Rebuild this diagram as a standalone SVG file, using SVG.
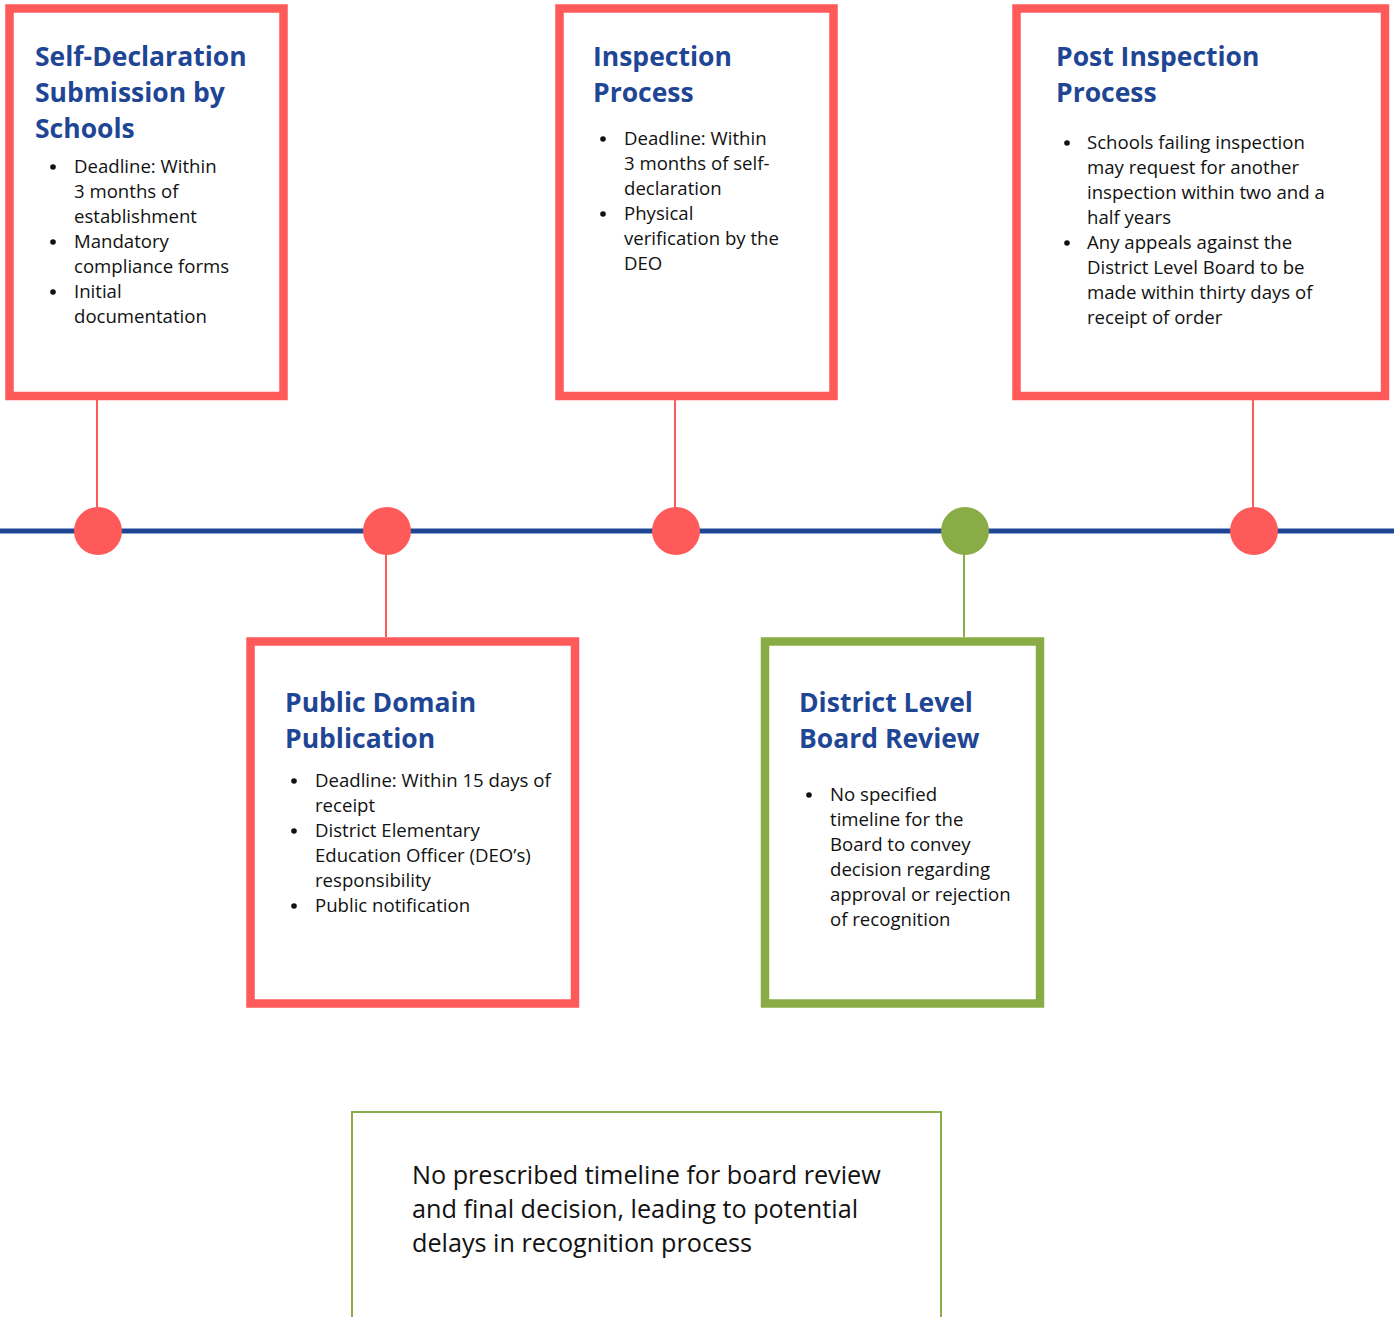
<svg xmlns="http://www.w3.org/2000/svg" width="1394" height="1317" viewBox="0 0 1394 1317">
<style>
.box{fill:#fff;stroke:#ff5a5a;stroke-width:8.5}
.gbox{fill:#fff;stroke:#8aac47;stroke-width:8.5}
.title{font-family:"Open Sans","Noto Sans",sans-serif;font-weight:700;font-size:26.5px;fill:#1f4695}
.body{font-family:"Open Sans","Noto Sans",sans-serif;font-size:18.6px;fill:#111}
.note{font-family:"Open Sans","Noto Sans",sans-serif;font-size:25.2px;fill:#111}
.bul{fill:#111}
.rc{fill:#ff5a5a}
.gc{fill:#8aac47}
.rl{stroke:#ff5a5a;stroke-width:2}
.gl{stroke:#8aac47;stroke-width:2}
</style>
<rect width="1394" height="1317" fill="#fff"/>
<g id="connectors">
<line x1="0" y1="531" x2="1394" y2="531" stroke="#1f4695" stroke-width="5"/>
<line class="rl" x1="97" y1="400" x2="97" y2="510"/>
<line class="rl" x1="675" y1="400" x2="675" y2="510"/>
<line class="rl" x1="1253" y1="400" x2="1253" y2="510"/>
<line class="rl" x1="386" y1="552" x2="386" y2="637"/>
<line class="gl" x1="964" y1="552" x2="964" y2="637"/>
</g>
<g id="dot1"><circle class="rc" cx="98" cy="531" r="24"/></g>
<g id="dot2"><circle class="rc" cx="387" cy="531" r="24"/></g>
<g id="dot3"><circle class="rc" cx="676" cy="531" r="24"/></g>
<g id="dot4"><circle class="gc" cx="965" cy="531" r="24"/></g>
<g id="dot5"><circle class="rc" cx="1254" cy="531" r="24"/></g>

<g id="self-declaration">
<rect class="box" x="9.5" y="8.5" width="274" height="387.5"/>
<text class="title"><tspan x="35" y="66">Self-Declaration</tspan><tspan x="35" y="102">Submission by</tspan><tspan x="35" y="138">Schools</tspan></text>
<circle class="bul" cx="53" cy="167" r="2.8"/><circle class="bul" cx="53" cy="242" r="2.8"/><circle class="bul" cx="53" cy="292" r="2.8"/>
<text class="body">
<tspan x="74" y="173">Deadline: Within</tspan>
<tspan x="74" y="198">3 months of</tspan>
<tspan x="74" y="223">establishment</tspan>
<tspan x="74" y="248">Mandatory</tspan>
<tspan x="74" y="273">compliance forms</tspan>
<tspan x="74" y="298">Initial</tspan>
<tspan x="74" y="323">documentation</tspan>
</text>
</g>

<g id="inspection">
<rect class="box" x="559.5" y="8.5" width="274" height="387.5"/>
<text class="title"><tspan x="593" y="66">Inspection</tspan><tspan x="593" y="102">Process</tspan></text>
<circle class="bul" cx="603" cy="139" r="2.8"/><circle class="bul" cx="603" cy="214" r="2.8"/>
<text class="body">
<tspan x="624" y="145">Deadline: Within</tspan>
<tspan x="624" y="170">3 months of self-</tspan>
<tspan x="624" y="195">declaration</tspan>
<tspan x="624" y="220">Physical</tspan>
<tspan x="624" y="245">verification by the</tspan>
<tspan x="624" y="270">DEO</tspan>
</text>
</g>

<g id="post-inspection">
<rect class="box" x="1016.5" y="8.5" width="368.5" height="387.5"/>
<text class="title"><tspan x="1056" y="66">Post Inspection</tspan><tspan x="1056" y="102">Process</tspan></text>
<circle class="bul" cx="1067" cy="143" r="2.8"/><circle class="bul" cx="1067" cy="243" r="2.8"/>
<text class="body">
<tspan x="1087" y="149">Schools failing inspection</tspan>
<tspan x="1087" y="174">may request for another</tspan>
<tspan x="1087" y="199">inspection within two and a</tspan>
<tspan x="1087" y="224">half years</tspan>
<tspan x="1087" y="249">Any appeals against the</tspan>
<tspan x="1087" y="274">District Level Board to be</tspan>
<tspan x="1087" y="299">made within thirty days of</tspan>
<tspan x="1087" y="324">receipt of order</tspan>
</text>
</g>

<g id="public-domain">
<rect class="box" x="250.5" y="641.5" width="324.5" height="362"/>
<text class="title"><tspan x="285" y="712">Public Domain</tspan><tspan x="285" y="748">Publication</tspan></text>
<circle class="bul" cx="294" cy="781" r="2.8"/><circle class="bul" cx="294" cy="831" r="2.8"/><circle class="bul" cx="294" cy="906" r="2.8"/>
<text class="body">
<tspan x="315" y="787">Deadline: Within 15 days of</tspan>
<tspan x="315" y="812">receipt</tspan>
<tspan x="315" y="837">District Elementary</tspan>
<tspan x="315" y="862">Education Officer (DEO’s)</tspan>
<tspan x="315" y="887">responsibility</tspan>
<tspan x="315" y="912">Public notification</tspan>
</text>
</g>

<g id="district-board">
<rect class="gbox" x="765" y="641.5" width="275" height="362"/>
<text class="title"><tspan x="799" y="712">District Level</tspan><tspan x="799" y="748">Board Review</tspan></text>
<circle class="bul" cx="809" cy="795" r="2.8"/>
<text class="body">
<tspan x="830" y="801">No specified</tspan>
<tspan x="830" y="826">timeline for the</tspan>
<tspan x="830" y="851">Board to convey</tspan>
<tspan x="830" y="876">decision regarding</tspan>
<tspan x="830" y="901">approval or rejection</tspan>
<tspan x="830" y="926">of recognition</tspan>
</text>
</g>

<g id="note">
<path d="M352,1317 V1112 H941 V1317" fill="none" stroke="#8aac47" stroke-width="2"/>
<text class="note"><tspan x="412" y="1184">No prescribed timeline for board review</tspan><tspan x="412" y="1218">and final decision, leading to potential</tspan><tspan x="412" y="1252">delays in recognition process</tspan></text>
</g>
</svg>
